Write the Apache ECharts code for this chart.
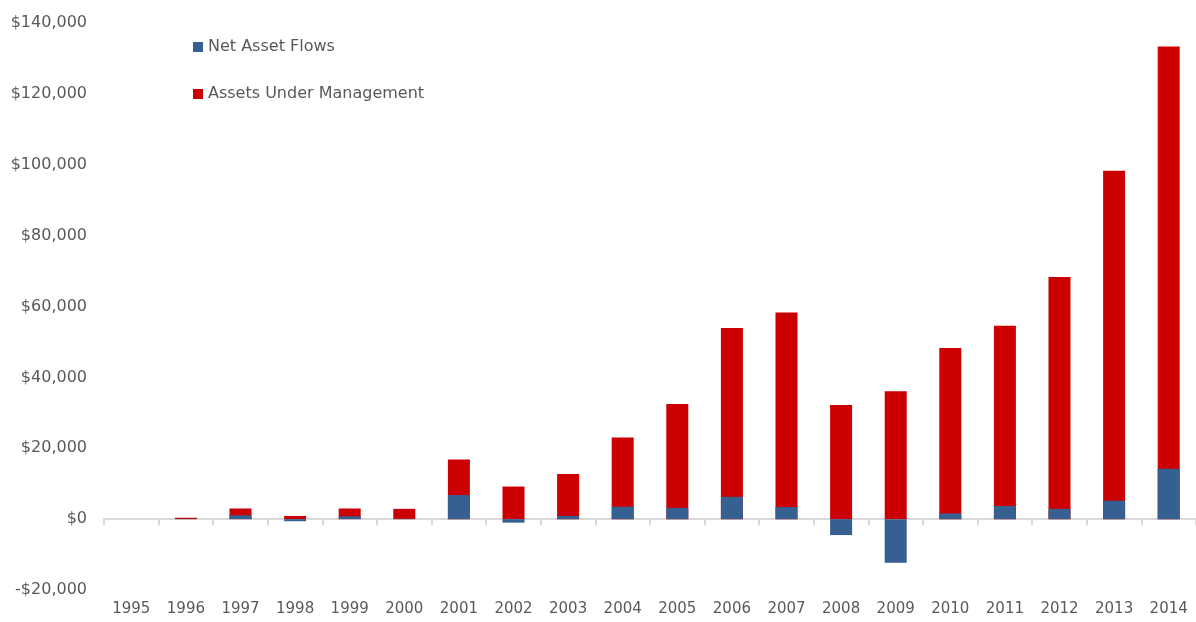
<!DOCTYPE html>
<html>
<head>
<meta charset="utf-8">
<script src="https://cdn.jsdelivr.net/npm/echarts@6/dist/echarts.min.js"></script>
<style>
  html, body { margin: 0; padding: 0; background: #fff; }
  #chart { width: 1196px; height: 622px; }
</style>
</head>
<body>
<div id="chart"></div>
<script>
// values in $ millions
const years = ['1995', '1996', '1997', '1998', '1999', '2000', '2001', '2002', '2003', '2004',
               '2005', '2006', '2007', '2008', '2009', '2010', '2011', '2012', '2013', '2014'];
const netFlows = [0, 100, 1100, -600, 800, 100, 6800, -1000, 900, 3500,
                  3200, 6300, 3400, -4500, -12300, 1600, 3700, 2900, 5200, 14200];
const assetsUnderMgmt = [0, 400, 3000, 900, 3000, 2900, 16800, 9200, 12700, 23000,
                         32500, 53900, 58300, 32200, 36100, 48300, 54600, 68300, 98300, 133400];
const yTicks = { min: -20000, max: 140000, interval: 20000 };

const textColor = '#595959';
const fontFamily = 'DejaVu Sans';

const chart = echarts.init(document.getElementById('chart'));

const fmtDollar = (v) => (v < 0 ? '-' : '') + '$' + Math.abs(v).toLocaleString('en-US');

chart.setOption({
    animation: false,
    textStyle: { fontFamily: fontFamily },
    grid: { left: 104, top: 23, width: 1097, height: 567, containLabel: false },
    legend: {
        orient: 'vertical',
        left: 188,
        top: 34,
        itemWidth: 10,
        itemHeight: 10,
        itemGap: 31,
        icon: 'rect',
        data: ['Net Asset Flows', 'Assets Under Management'],
        textStyle: { color: textColor, fontSize: 16, fontFamily: fontFamily }
    },
    xAxis: [
        {
            // axis line + ticks sitting on zero
            type: 'category',
            data: years,
            axisLine: { onZero: true, lineStyle: { color: '#d9d9d9', width: 2 } },
            axisTick: { show: true, length: 6, lineStyle: { color: '#d9d9d9', width: 2 } },
            axisLabel: { show: false }
        },
        {
            // labels at the bottom of the plot
            type: 'category',
            data: years,
            position: 'bottom',
            axisLine: { show: false, onZero: false },
            axisTick: { show: false },
            axisLabel: { color: textColor, fontSize: 15, margin: 12 }
        }
    ],
    yAxis: {
        type: 'value',
        min: yTicks.min,
        max: yTicks.max,
        interval: yTicks.interval,
        axisLine: { show: false },
        axisTick: { show: false },
        splitLine: { show: false },
        axisLabel: { color: textColor, fontSize: 16, margin: 17, formatter: fmtDollar }
    },
    series: [
        {
            name: 'Assets Under Management',
            type: 'bar',
            xAxisIndex: 0,
            barWidth: 22,
            barGap: '-100%',
            itemStyle: { color: '#cc0000' },
            data: assetsUnderMgmt
        },
        {
            name: 'Net Asset Flows',
            type: 'bar',
            xAxisIndex: 0,
            barWidth: 22,
            barGap: '-100%',
            itemStyle: { color: '#366092' },
            data: netFlows
        }
    ]
});
</script>
</body>
</html>
